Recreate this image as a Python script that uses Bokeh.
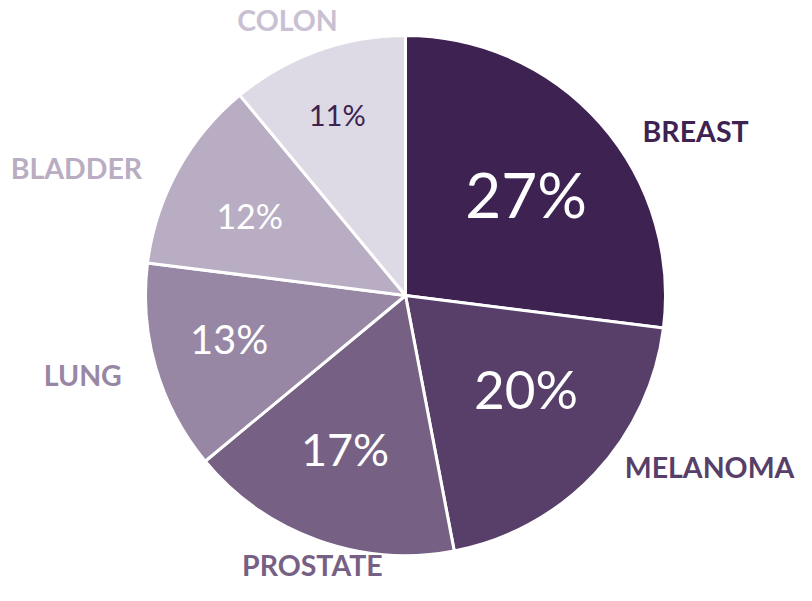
import math
from bokeh.plotting import figure
from bokeh.models import ColumnDataSource, Range1d
from bokeh.core.properties import value
from bokeh.embed import file_html
from bokeh.resources import INLINE

# ---- data ----
categories = ["BREAST", "MELANOMA", "PROSTATE", "LUNG", "BLADDER", "COLON"]
shares = [27, 20, 17, 13, 12, 11]
pct_labels = ["27%", "20%", "17%", "13%", "12%", "11%"]

# ---- styles ----
slice_colors = ["#3d2252", "#573f6a", "#766185", "#9787a4", "#b8adc2", "#dedae5"]
name_colors = ["#3d2252", "#573f6a", "#766185", "#9787a4", "#b8adc2", "#c9c0d3"]
pct_colors = ["#ffffff", "#ffffff", "#ffffff", "#ffffff", "#ffffff", "#3d2252"]
pct_sizes = [62, 53, 45, 40, 34, 29]
pct_radius_frac = [0.60, 0.59, 0.64, 0.70, 0.67, 0.74]
pct_angle_offset = [-2.0, 4.9, -1.5, -1.9, 2.2, 1.0]
name_radius_frac = [1.277, 1.349, 1.106, 1.281, 1.354, 1.142]
name_angle = [29.1, -29.9, -108.9, -165.7, 159.2, 113.4]
name_size = 28.5

W, H = 796, 585
CX, CY, R = 405, 290, 260

total = sum(shares)
starts, ends, mids = [], [], []
acc = 0.0
for v in shares:
    a0 = 90 - acc / total * 360
    a1 = 90 - (acc + v) / total * 360
    starts.append(math.radians(a0))
    ends.append(math.radians(a1))
    mids.append((a0 + a1) / 2)
    acc += v

src = ColumnDataSource(dict(cat=categories, start=starts, end=ends, color=slice_colors))

p = figure(width=W, height=H, output_backend="svg", toolbar_location=None,
           x_range=Range1d(0, W), y_range=Range1d(0, H), min_border=0)
p.axis.visible = False
p.grid.visible = False
p.outline_line_color = None
p.background_fill_color = "white"

p.wedge(x=CX, y=CY, radius=R, start_angle="start", end_angle="end", direction="clock",
        fill_color="color", line_color="white", line_width=3, source=src)

# percent labels
for i in range(len(categories)):
    a = math.radians(mids[i] + pct_angle_offset[i])
    x = CX + pct_radius_frac[i] * R * math.cos(a)
    y = CY + pct_radius_frac[i] * R * math.sin(a)
    p.text(x=[x], y=[y], text=[pct_labels[i]], text_font=value("Lato"),
           text_font_size=f"{pct_sizes[i]}px", text_color=pct_colors[i],
           text_align="center", text_baseline="middle",
           y_offset=-0.045 * pct_sizes[i])

# category labels
nx, ny = [], []
for ang, f in zip(name_angle, name_radius_frac):
    a = math.radians(ang)
    nx.append(CX + f * R * math.cos(a))
    ny.append(CY + f * R * math.sin(a))
nsrc = ColumnDataSource(dict(x=nx, y=ny, t=categories, c=name_colors))
p.text(x="x", y="y", text="t", text_color="c", source=nsrc, text_font=value("Lato"),
       text_font_style="bold", text_font_size=f"{name_size}px", text_align="center",
       text_baseline="middle", y_offset=-0.1 * name_size)

open("out.html", "w").write(file_html(p, INLINE))
